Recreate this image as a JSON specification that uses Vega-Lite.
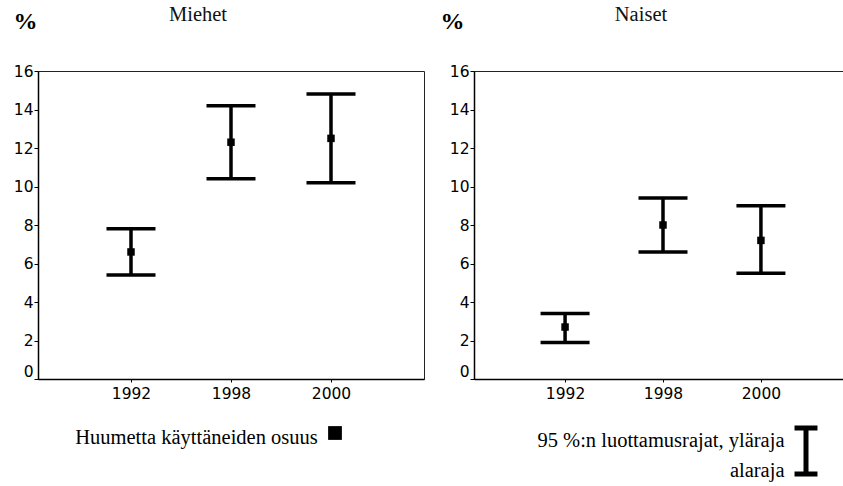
{
  "$schema": "https://vega.github.io/schema/vega-lite/v6.json",
  "background": "white",
  "padding": {"left": 12, "top": 4, "right": 0, "bottom": 0},
  "data": {
    "values": [
      {"sukupuoli": "Miehet", "vuosi": "1992", "osuus": 6.6, "alaraja": 5.4, "ylaraja": 7.8},
      {"sukupuoli": "Miehet", "vuosi": "1998", "osuus": 12.3, "alaraja": 10.4, "ylaraja": 14.2},
      {"sukupuoli": "Miehet", "vuosi": "2000", "osuus": 12.5, "alaraja": 10.2, "ylaraja": 14.8},
      {"sukupuoli": "Naiset", "vuosi": "1992", "osuus": 2.7, "alaraja": 1.9, "ylaraja": 3.4},
      {"sukupuoli": "Naiset", "vuosi": "1998", "osuus": 8.0, "alaraja": 6.6, "ylaraja": 9.4},
      {"sukupuoli": "Naiset", "vuosi": "2000", "osuus": 7.2, "alaraja": 5.5, "ylaraja": 9.0}
    ]
  },
  "spacing": 14,
  "hconcat": [
    {
      "width": 386,
      "height": 308,
      "title": {"text": "Miehet", "font": "Liberation Serif", "fontSize": 20.5, "fontWeight": "normal", "color": "#111", "anchor": "middle", "frame": "group", "dx": -33, "offset": -16},
      "transform": [{"filter": "datum.sukupuoli === 'Miehet'"}],
      "encoding": {
        "x": {"field": "vuosi", "type": "ordinal", "scale": {"type": "point", "padding": 0.93},
          "axis": {"title": "Huumetta käyttäneiden osuus", "titleFontSize": 20.5, "titleX": 158, "titleY": 64, "titleAlign": "center", "titleBaseline": "alphabetic", "titleAnchor": null}}
      },
      "layer": [
        {"mark": {"type": "rule", "strokeWidth": 3.5, "color": "black"},
          "encoding": {"y": {"field": "alaraja", "type": "quantitative", "scale": {"domain": [0, 16], "nice": false, "zero": false}, "title": "%"}, "y2": {"field": "ylaraja"}}},
        {"mark": {"type": "tick", "thickness": 3.5, "size": 49, "color": "black", "orient": "horizontal", "opacity": 1},
          "encoding": {"y": {"field": "ylaraja", "type": "quantitative", "title": "%"}}},
        {"mark": {"type": "tick", "thickness": 3.5, "size": 49, "color": "black", "orient": "horizontal", "opacity": 1},
          "encoding": {"y": {"field": "alaraja", "type": "quantitative", "title": "%"}}},
        {"mark": {"type": "point", "shape": "square", "size": 56, "color": "black", "filled": true, "opacity": 1, "strokeWidth": 0},
          "encoding": {
            "y": {"field": "osuus", "type": "quantitative", "title": "%"},
            "shape": {"datum": "osuus", "type": "nominal", "scale": {"range": ["square"]},
              "legend": {"orient": "none", "legendX": 290, "legendY": 355, "title": null, "labelExpr": "''", "labelFontSize": 1, "symbolSize": 190, "symbolFillColor": "#111", "symbolStrokeWidth": 0, "symbolOpacity": 1, "padding": 0}}
          }}
      ]
    },
    {
      "width": 378,
      "height": 308,
      "title": {"text": "Naiset", "font": "Liberation Serif", "fontSize": 20.5, "fontWeight": "normal", "color": "#111", "anchor": "middle", "frame": "group", "dx": -22, "offset": -16},
      "transform": [{"filter": "datum.sukupuoli === 'Naiset'"}],
      "encoding": {
        "x": {"field": "vuosi", "type": "ordinal", "scale": {"type": "point", "padding": 0.93},
          "axis": {"title": ["95 %:n luottamusrajat, yläraja", "alaraja"], "titleFontSize": 20.5, "titleX": 310, "titleY": 67, "titleAlign": "right", "titleBaseline": "alphabetic", "titleAnchor": null, "titleLineHeight": 30}}
      },
      "layer": [
        {"mark": {"type": "rule", "strokeWidth": 3.5},
          "encoding": {
            "y": {"field": "alaraja", "type": "quantitative", "scale": {"domain": [0, 16], "nice": false, "zero": false}, "title": "%", "axis": {"titleX": -22}},
            "y2": {"field": "ylaraja"},
            "color": {"datum": "luottamusrajat", "type": "nominal", "scale": {"range": ["black"]},
              "legend": {"orient": "none", "legendX": 740, "legendY": 352, "title": null, "labelExpr": "''", "labelFontSize": 1, "symbolType": "M-0.45,-0.9H0.45M0,-0.9V0.9M-0.45,0.9H0.45", "symbolSize": 2601, "symbolStrokeWidth": 5, "symbolStrokeColor": "black", "symbolFillColor": "transparent", "padding": 0}}
          }},
        {"mark": {"type": "tick", "thickness": 3.5, "size": 49, "color": "black", "orient": "horizontal", "opacity": 1},
          "encoding": {"y": {"field": "ylaraja", "type": "quantitative", "title": "%", "axis": {"titleX": -22}}}},
        {"mark": {"type": "tick", "thickness": 3.5, "size": 49, "color": "black", "orient": "horizontal", "opacity": 1},
          "encoding": {"y": {"field": "alaraja", "type": "quantitative", "title": "%", "axis": {"titleX": -22}}}},
        {"mark": {"type": "square", "size": 56, "color": "black", "filled": true, "opacity": 1},
          "encoding": {"y": {"field": "osuus", "type": "quantitative", "title": "%", "axis": {"titleX": -22}}}}
      ]
    }
  ],
  "config": {
    "view": {"stroke": "#222", "strokeWidth": 1},
    "axis": {"grid": false, "domainColor": "black", "domainWidth": 1.5, "tickColor": "black", "labelColor": "black", "titleColor": "black", "labelFont": "DejaVu Sans", "labelFontSize": 15.5, "titleFont": "Liberation Serif", "titleFontWeight": "normal"},
    "axisX": {"labelAngle": 0, "tickSize": 3, "labelPadding": 4},
    "axisY": {
      "values": [0, 1, 2, 3, 4, 5, 6, 7, 8, 9, 10, 11, 12, 13, 14, 15, 16],
      "labelExpr": "datum.value % 2 === 0 ? datum.label : ''",
      "labelBaseline": {"condition": {"test": "datum.value === 0", "value": "bottom"}, "value": "middle"},
      "tickSize": 4, "labelPadding": 1,
      "titleAngle": 0, "titleFontSize": 24, "titleFontWeight": "bold", "titleAlign": "center", "titleBaseline": "middle", "titleX": -13, "titleY": -50
    }
  }
}
